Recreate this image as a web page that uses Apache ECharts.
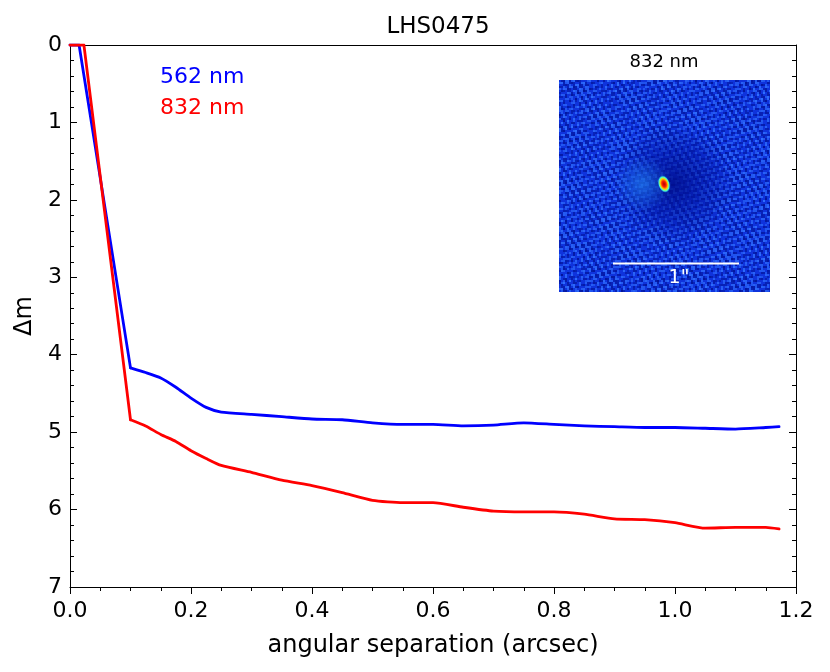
<!DOCTYPE html>
<html>
<head>
<meta charset="utf-8">
<script src="https://cdn.jsdelivr.net/npm/echarts@6/dist/echarts.min.js"></script>
<style>html,body{margin:0;padding:0;background:#fff}#c{width:830px;height:672px}</style>
</head>
<body>
<div id="c"></div>
<script>
// Data
var blue562 = [[0,0],[0.015,0],[0.1,4.17],[0.125,4.23],[0.15,4.30],[0.175,4.42],[0.2,4.56],[0.225,4.68],[0.25,4.74],[0.3,4.77],[0.35,4.80],[0.4,4.83],[0.45,4.84],[0.5,4.88],[0.55,4.90],[0.6,4.90],[0.65,4.92],[0.7,4.91],[0.75,4.88],[0.8,4.90],[0.85,4.92],[0.9,4.93],[0.95,4.94],[1.0,4.94],[1.05,4.95],[1.1,4.96],[1.15,4.94],[1.172,4.93]];
var red832 = [[0,0],[0.023,0],[0.1,4.84],[0.125,4.92],[0.15,5.03],[0.175,5.12],[0.2,5.24],[0.225,5.34],[0.25,5.43],[0.3,5.52],[0.35,5.62],[0.4,5.69],[0.45,5.78],[0.5,5.88],[0.55,5.91],[0.6,5.91],[0.65,5.97],[0.7,6.02],[0.75,6.03],[0.8,6.03],[0.85,6.06],[0.9,6.12],[0.95,6.13],[1.0,6.17],[1.05,6.24],[1.1,6.23],[1.15,6.23],[1.172,6.25]];
var seriesNames = ['562 nm', '832 nm'];
var xTicks = {min: 0, max: 1.2, step: 0.2};
var yTicks = {min: 0, max: 7, step: 1};
var kneeIndex = 2; // the sharp corner at 0.1 arcsec

// Decorative inset image (speckle image texture, not data)
function makeInset(w, h) {
  var cv = document.createElement('canvas');
  cv.width = w; cv.height = h;
  var g = cv.getContext('2d');
  g.fillStyle = '#0f33dc'; g.fillRect(0, 0, w, h);
  for (var y = 0; y < h; y += 2) {
    for (var x = 0; x < w; x += 2) {
      var v = Math.sin(x * 0.61 + y * 0.23) * Math.sin(y * 0.87 - x * 0.29) + 0.6 * Math.sin(x * 0.17 + y * 0.41) * Math.cos(x * 0.93 - y * 0.11);
      if (v > 0.3) { g.fillStyle = 'rgba(50,115,255,' + Math.min(0.95, 0.35 + v * 0.45).toFixed(2) + ')'; g.fillRect(x, y, 2, 2); }
      else if (v < -0.3) { g.fillStyle = 'rgba(0,15,140,' + Math.min(0.85, 0.3 - v * 0.4).toFixed(2) + ')'; g.fillRect(x, y, 2, 2); }
    }
  }
  var cx = 105, cy = 104;
  var rg = g.createRadialGradient(cx + 10, cy, 0, cx + 10, cy, 60);
  rg.addColorStop(0, 'rgba(0,14,140,0.85)'); rg.addColorStop(0.6, 'rgba(0,20,160,0.45)'); rg.addColorStop(1, 'rgba(0,20,160,0)');
  g.fillStyle = rg; g.fillRect(0, 0, w, h);
  var hg = g.createRadialGradient(cx - 22, cy, 0, cx - 22, cy, 28);
  hg.addColorStop(0, 'rgba(40,150,255,0.55)'); hg.addColorStop(1, 'rgba(40,150,255,0)');
  g.fillStyle = hg; g.fillRect(0, 0, w, h);
  g.save(); g.translate(cx, cy); g.rotate(-0.3); g.scale(1, 1.5);
  var sg = g.createRadialGradient(0, 0, 0, 0, 0, 6);
  sg.addColorStop(0, '#b00000'); sg.addColorStop(0.35, '#ff2000'); sg.addColorStop(0.6, '#ffd000'); sg.addColorStop(0.8, '#40ffd0'); sg.addColorStop(1, 'rgba(30,150,255,0)');
  g.fillStyle = sg; g.beginPath(); g.arc(0, 0, 6, 0, Math.PI * 2); g.fill();
  g.restore();
  return cv.toDataURL();
}

var chart = echarts.init(document.getElementById('c'));
var font = 'DejaVu Sans';
var yAxisBase = {
  type: 'value', min: yTicks.min, max: yTicks.max, interval: yTicks.step, inverse: true,
  axisLine: {show: true, onZero: false, lineStyle: {color: '#000', width: 1}},
  axisTick: {show: true, inside: true, length: 7, lineStyle: {color: '#000'}},
  minorTick: {show: true, splitNumber: 5, length: 4, lineStyle: {color: '#000'}},
  splitLine: {show: false}
};
function lineSeries(name, data, color, smooth) {
  return {
    name: name, type: 'line', data: data, showSymbol: false, smooth: smooth, clip: true,
    lineStyle: {color: color, width: 2.8, cap: 'round', join: 'round'}, itemStyle: {color: color}
  };
}
chart.setOption({
  animation: false,
  textStyle: {fontFamily: font},
  title: {text: 'LHS0475', left: 433, top: 11, textAlign: 'center',
    textStyle: {fontFamily: font, fontSize: 23, fontWeight: 'normal', color: '#000'}},
  grid: {left: 70, right: 34, top: 45, bottom: 85},
  xAxis: [{
    type: 'value', min: xTicks.min, max: xTicks.max, interval: xTicks.step,
    name: 'angular separation (arcsec)', nameLocation: 'middle', nameGap: 47,
    nameTextStyle: {fontFamily: font, fontSize: 24, color: '#000'},
    axisLine: {show: true, onZero: false, lineStyle: {color: '#000', width: 1}},
    axisTick: {show: true, inside: false, length: 7, lineStyle: {color: '#000'}},
    minorTick: {show: true, splitNumber: 4, length: 4, lineStyle: {color: '#000'}},
    axisLabel: {fontFamily: font, fontSize: 22, color: '#000', margin: 13, formatter: function (v) { return v.toFixed(1); }},
    splitLine: {show: false}
  }, {
    type: 'value', position: 'top', min: xTicks.min, max: xTicks.max, interval: xTicks.step,
    axisLine: {show: true, onZero: false, lineStyle: {color: '#000', width: 1}},
    axisTick: {show: false}, axisLabel: {show: false}, splitLine: {show: false}
  }],
  yAxis: [Object.assign({}, yAxisBase, {
    position: 'left', name: 'Δm', nameLocation: 'middle', nameGap: 32, nameRotate: 90,
    nameTextStyle: {fontFamily: font, fontSize: 24, color: '#000'},
    axisLabel: {fontFamily: font, fontSize: 22, color: '#000', margin: 8}
  }), Object.assign({}, yAxisBase, {
    position: 'right', axisLabel: {show: false}
  })],
  series: [
    lineSeries(seriesNames[0], blue562.slice(0, kneeIndex + 1), '#0000ff', false),
    lineSeries(seriesNames[0], blue562.slice(kneeIndex), '#0000ff', 0.2),
    lineSeries(seriesNames[1], red832.slice(0, kneeIndex + 1), '#ff0000', false),
    lineSeries(seriesNames[1], red832.slice(kneeIndex), '#ff0000', 0.2)
  ],
  graphic: [
    {type: 'text', x: 160, y: 77, style: {text: seriesNames[0], fill: '#0000ff', font: '22px "DejaVu Sans"', textVerticalAlign: 'middle'}},
    {type: 'text', x: 160, y: 108, style: {text: seriesNames[1], fill: '#ff0000', font: '22px "DejaVu Sans"', textVerticalAlign: 'middle'}},
    {type: 'text', x: 664, y: 62, style: {text: '832 nm', fill: '#000', font: '18px "DejaVu Sans"', textAlign: 'center', textVerticalAlign: 'middle'}},
    {type: 'image', x: 559, y: 80, style: {image: makeInset(211, 212), x: 0, y: 0, width: 211, height: 212}},
    {type: 'line', shape: {x1: 613, y1: 263.5, x2: 739, y2: 263.5}, style: {stroke: '#fff', lineWidth: 2}},
    {type: 'text', x: 679, y: 278, style: {text: '1"', fill: '#fff', font: '19px "DejaVu Sans"', textAlign: 'center', textVerticalAlign: 'middle'}}
  ]
});
</script>
</body>
</html>
